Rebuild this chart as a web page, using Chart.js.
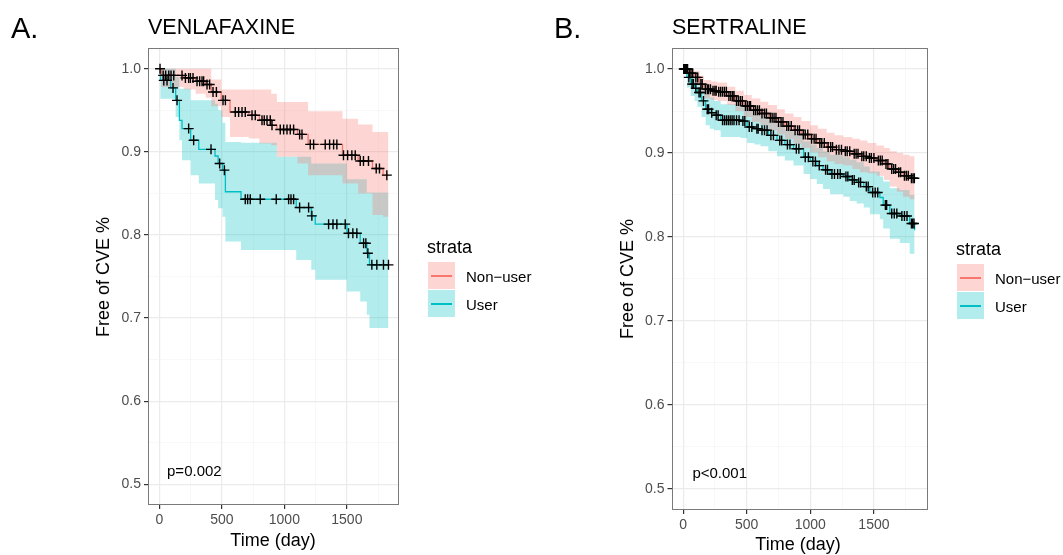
<!DOCTYPE html>
<html>
<head>
<meta charset="utf-8">
<script src="https://cdn.jsdelivr.net/npm/chart.js@4/dist/chart.umd.min.js"></script>
<style>
  body { margin: 0; background: #fff; font-family: "Liberation Sans", Arial, Helvetica, sans-serif; }
  #wrap { position: relative; width: 1063px; height: 555px; overflow: hidden; }
  canvas { position: absolute; top: 0; }
  .t { position: absolute; line-height: 1; white-space: nowrap; color: #000; transform: translateY(-50%); }
  .c { transform: translate(-50%, -50%); }
  .rot { transform: translate(-50%, -50%) rotate(-90deg); }
  .key { position: absolute; width: 27px; height: 27px; }
  .key i { position: absolute; left: 3px; right: 3px; top: 13px; height: 1.5px; }
</style>
</head>
<body>
<div id="wrap">
  <canvas id="chartA" width="530" height="555" style="left:0"></canvas>
  <canvas id="chartB" width="533" height="555" style="left:530px"></canvas>

  <div class="t" style="left:11px;top:28px;font-size:29px">A.</div>
  <div class="t" style="left:148px;top:28px;font-size:21.5px">VENLAFAXINE</div>
  <div class="t" style="left:554px;top:28px;font-size:29px">B.</div>
  <div class="t" style="left:672px;top:28px;font-size:21.5px">SERTRALINE</div>

  <div class="t rot" style="left:103px;top:277px;font-size:18px">Free of CVE %</div>
  <div class="t c" style="left:273px;top:540px;font-size:18px">Time (day)</div>
  <div class="t rot" style="left:627px;top:279px;font-size:18px">Free of CVE %</div>
  <div class="t c" style="left:798px;top:544px;font-size:18px">Time (day)</div>

  <div class="t" style="left:427px;top:247px;font-size:18px">strata</div>
  <div class="key" style="left:428px;top:262px;background:rgba(248,118,109,0.3)"><i style="background:#F8766D"></i></div>
  <div class="key" style="left:428px;top:290px;background:rgba(0,191,196,0.3)"><i style="background:#00BFC4"></i></div>
  <div class="t" style="left:466px;top:276px;font-size:15px">Non−user</div>
  <div class="t" style="left:466px;top:304px;font-size:15px">User</div>

  <div class="t" style="left:956px;top:249px;font-size:18px">strata</div>
  <div class="key" style="left:957px;top:264px;background:rgba(248,118,109,0.3)"><i style="background:#F8766D"></i></div>
  <div class="key" style="left:957px;top:292px;background:rgba(0,191,196,0.3)"><i style="background:#00BFC4"></i></div>
  <div class="t" style="left:995px;top:278px;font-size:15px">Non−user</div>
  <div class="t" style="left:995px;top:306px;font-size:15px">User</div>
</div>

<script>
// ---- Panel A: venlafaxine ----
var aNonTime  = [0, 15, 195, 290, 370, 415, 495, 565, 715, 800, 895, 940, 1105, 1190, 1465, 1590, 1705, 1790, 1833];
var aNonSurv  = [1, 0.992, 0.989, 0.985, 0.981, 0.972, 0.962, 0.948, 0.944, 0.938, 0.932, 0.927, 0.921, 0.909, 0.896, 0.889, 0.880, 0.872, 0.872];
var aNonUpper = [1, 1, 1, 1, 1, 0.987, 0.975, 0.975, 0.975, 0.975, 0.970, 0.960, 0.960, 0.949, 0.940, 0.933, 0.924, 0.924, 0.924];
var aNonLower = [1, 0.978, 0.975, 0.970, 0.965, 0.955, 0.942, 0.918, 0.916, 0.910, 0.908, 0.894, 0.886, 0.872, 0.862, 0.850, 0.824, 0.822, 0.822];
var aNonCensor = [5, 30, 50, 75, 93, 115, 181, 208, 234, 248, 269, 301, 322, 341, 354, 381, 402, 429, 456, 509, 528,
  607, 634, 661, 687, 741, 767, 821, 839, 861, 887, 901, 967, 994, 1021, 1047, 1074, 1122, 1141, 1207, 1234,
  1327, 1362, 1394, 1420, 1473, 1506, 1540, 1567, 1607, 1633, 1673, 1735, 1761, 1820];

var aUserTime  = [0, 8, 90, 130, 160, 181, 250, 315, 445, 470, 505, 528, 653, 940, 1095, 1215, 1247, 1500, 1607, 1660, 1681, 1833];
var aUserSurv  = [1, 0.986, 0.977, 0.962, 0.938, 0.928, 0.914, 0.903, 0.895, 0.886, 0.878, 0.852, 0.843, 0.843, 0.833, 0.823, 0.813, 0.802, 0.790, 0.778, 0.764, 0.764];
var aUserUpper = [1, 1, 1, 0.990, 0.976, 0.976, 0.962, 0.962, 0.958, 0.950, 0.935, 0.912, 0.911, 0.894, 0.894, 0.886, 0.886, 0.867, 0.867, 0.851, 0.851, 0.851];
var aUserLower = [1, 0.964, 0.964, 0.942, 0.914, 0.890, 0.872, 0.862, 0.842, 0.832, 0.822, 0.792, 0.782, 0.782, 0.770, 0.758, 0.746, 0.732, 0.720, 0.704, 0.688, 0.688];
var aUserCensor = [35, 61, 109, 141, 234, 274, 413, 482, 520, 687, 706, 727, 807, 935, 1034, 1053, 1074, 1122, 1194, 1220,
  1354, 1389, 1420, 1487, 1513, 1548, 1580, 1634, 1652, 1668, 1700, 1740, 1793, 1833];

// ---- Panel B: sertraline ----
var bNonTime  = [0, 40, 86, 130, 164, 220, 269, 347, 410, 477, 540, 608, 670, 738, 800, 868, 930, 999, 1060, 1129, 1190, 1260, 1330, 1390, 1450, 1520, 1580, 1625, 1680, 1729, 1780, 1820];
var bNonSurv  = [1, 0.995, 0.990, 0.982, 0.976, 0.974, 0.973, 0.968, 0.962, 0.956, 0.951, 0.947, 0.942, 0.937, 0.932, 0.927, 0.922, 0.917, 0.912, 0.907, 0.904, 0.902, 0.899, 0.896, 0.894, 0.891, 0.887, 0.881, 0.877, 0.873, 0.870, 0.869];
var bNonUpper = [1, 1, 0.998, 0.992, 0.987, 0.985, 0.984, 0.979, 0.974, 0.969, 0.965, 0.961, 0.957, 0.952, 0.947, 0.943, 0.938, 0.933, 0.929, 0.924, 0.921, 0.919, 0.917, 0.915, 0.912, 0.909, 0.906, 0.902, 0.900, 0.898, 0.896, 0.895];
var bNonLower = [1, 0.990, 0.982, 0.972, 0.965, 0.963, 0.962, 0.957, 0.950, 0.943, 0.937, 0.933, 0.927, 0.922, 0.917, 0.911, 0.906, 0.901, 0.895, 0.890, 0.887, 0.885, 0.881, 0.877, 0.876, 0.873, 0.868, 0.860, 0.854, 0.848, 0.845, 0.843];
var bNonCensor = [5, 15, 25, 35, 50, 62, 75, 100, 115, 140, 150, 175, 190, 200, 215, 235, 250, 260, 280, 295, 310, 325, 340,
  360, 375, 390, 400, 420, 435, 450, 465, 490, 505, 520, 530, 555, 570, 585, 600, 620, 640, 655, 685, 700, 715, 730,
  750, 770, 785, 815, 830, 850, 880, 900, 915, 945, 960, 980, 1010, 1030, 1045, 1075, 1090, 1110, 1140, 1160, 1175,
  1205, 1225, 1245, 1275, 1290, 1310, 1345, 1360, 1375, 1405, 1420, 1440, 1465, 1480, 1500, 1535, 1550, 1565, 1595,
  1610, 1640, 1655, 1670, 1695, 1710, 1740, 1755, 1770, 1795, 1808, 1818];

var bUserTime  = [0, 30, 60, 90, 112, 145, 177, 210, 243, 295, 451, 503, 560, 608, 670, 738, 800, 868, 947, 1000, 1051, 1100, 1155, 1260, 1310, 1364, 1420, 1468, 1547, 1573, 1625, 1703, 1781, 1820];
var bUserSurv  = [1, 0.990, 0.982, 0.977, 0.972, 0.962, 0.952, 0.948, 0.945, 0.939, 0.938, 0.931, 0.929, 0.927, 0.921, 0.915, 0.910, 0.905, 0.895, 0.890, 0.885, 0.880, 0.875, 0.872, 0.868, 0.865, 0.860, 0.853, 0.847, 0.838, 0.828, 0.825, 0.816, 0.808];
var bUserUpper = [1, 1, 0.995, 0.991, 0.988, 0.980, 0.970, 0.966, 0.962, 0.958, 0.955, 0.950, 0.947, 0.945, 0.939, 0.933, 0.928, 0.923, 0.914, 0.910, 0.906, 0.902, 0.898, 0.895, 0.892, 0.889, 0.884, 0.878, 0.872, 0.866, 0.858, 0.856, 0.850, 0.844];
var bUserLower = [1, 0.978, 0.968, 0.962, 0.955, 0.943, 0.933, 0.929, 0.927, 0.919, 0.918, 0.912, 0.910, 0.908, 0.902, 0.896, 0.891, 0.885, 0.875, 0.869, 0.863, 0.857, 0.851, 0.848, 0.843, 0.840, 0.835, 0.827, 0.821, 0.810, 0.798, 0.793, 0.780, 0.764];
var bUserCensor = [10, 20, 45, 70, 80, 100, 125, 135, 160, 190, 200, 225, 260, 275, 310, 325, 340, 355, 370, 385, 400, 420,
  440, 470, 485, 520, 540, 580, 590, 620, 640, 660, 690, 710, 760, 775, 820, 840, 890, 910, 960, 985, 1020, 1040, 1070,
  1120, 1135, 1170, 1190, 1215, 1235, 1280, 1295, 1330, 1345, 1380, 1395, 1440, 1455, 1490, 1510, 1530, 1590, 1600,
  1640, 1660, 1680, 1720, 1740, 1760, 1795, 1805, 1815];

var xTicks = [0, 250, 500, 750, 1000, 1250, 1500, 1750];
var yTicks = [0.5, 0.55, 0.6, 0.65, 0.7, 0.75, 0.8, 0.85, 0.9, 0.95, 1.0];

var RED = '#F8766D', TEAL = '#00BFC4';
var FONT = '"Liberation Sans", Arial, Helvetica, sans-serif';

function pts(times, vals) {
  return times.map(function (t, i) { return { x: t, y: vals[i] }; });
}

// value of the step curve at time t
function stepAt(times, surv, t) {
  var v = surv[0];
  for (var i = 0; i < times.length; i++) {
    if (times[i] <= t) v = surv[i];
  }
  return v;
}

function censorPts(times, surv, cens) {
  return cens.map(function (t) { return { x: t, y: stepAt(times, surv, t) }; });
}

function isMajor(v, step) {
  return Math.abs(v / step - Math.round(v / step)) < 1e-6;
}

var panelBox = {
  id: 'panelBox',
  afterDraw: function (chart, args, opts) {
    var ctx = chart.ctx, a = chart.chartArea;
    ctx.save();
    ctx.strokeStyle = '#7a7a7a';
    ctx.lineWidth = 1;
    ctx.strokeRect(Math.round(a.left) + 0.5, Math.round(a.top) + 0.5, Math.round(a.width) - 1, Math.round(a.height) - 1);
    ctx.fillStyle = '#000';
    ctx.font = '15px ' + FONT;
    ctx.textBaseline = 'middle';
    ctx.textAlign = 'left';
    ctx.fillText(opts.label, chart.scales.x.getPixelForValue(opts.at[0]), chart.scales.y.getPixelForValue(opts.at[1]));
    ctx.restore();
  }
};

function makeChart(id, g, box) {
  var band = function (data, color, fill) {
    return { data: data, stepped: true, borderWidth: 0, pointRadius: 0, backgroundColor: color, fill: fill, order: 3 };
  };
  var curve = function (data, color) {
    return { data: data, stepped: true, borderColor: color, borderWidth: 1.3, pointRadius: 0, fill: false, order: 2 };
  };
  var marks = function (data) {
    return { data: data, showLine: false, pointStyle: 'cross', pointRadius: 5, borderColor: '#000', borderWidth: 1.4, order: 1 };
  };

  return new Chart(document.getElementById(id), {
    type: 'line',
    data: {
      datasets: [
        band(pts(g.nonT, g.nonU), 'rgba(248,118,109,0.3)', false),
        band(pts(g.nonT, g.nonL), 'rgba(248,118,109,0.3)', '-1'),
        band(pts(g.userT, g.userU), 'rgba(0,191,196,0.3)', false),
        band(pts(g.userT, g.userL), 'rgba(0,191,196,0.3)', '-1'),
        curve(pts(g.nonT, g.nonS), RED),
        curve(pts(g.userT, g.userS), TEAL),
        marks(censorPts(g.nonT, g.nonS, g.nonC)),
        marks(censorPts(g.userT, g.userS, g.userC))
      ]
    },
    options: {
      responsive: false,
      animation: false,
      layout: { padding: { top: box.top, right: box.right, left: 0, bottom: 0 } },
      plugins: {
        legend: { display: false },
        tooltip: { enabled: false },
        panelBox: { label: g.pval, at: g.pAt }
      },
      scales: {
        x: {
          type: 'linear',
          min: -91.3,
          max: 1917.3,
          afterBuildTicks: function (s) { s.ticks = xTicks.map(function (v) { return { value: v }; }); },
          afterFit: function (s) { s.height = box.xh; },
          border: { display: false },
          grid: {
            color: function (c) { return isMajor(c.tick.value, 500) ? '#EBEBEB' : '#F3F3F3'; },
            lineWidth: function (c) { return isMajor(c.tick.value, 500) ? 1.2 : 0.6; },
            tickColor: function (c) { return isMajor(c.tick.value, 500) ? '#333' : 'rgba(0,0,0,0)'; },
            tickLength: 4
          },
          ticks: {
            autoSkip: false,
            maxRotation: 0,
            padding: 3,
            color: '#4D4D4D',
            font: { family: FONT, size: 14 },
            callback: function (v) { return isMajor(v, 500) ? String(v) : ''; }
          }
        },
        y: {
          min: 0.475,
          max: 1.025,
          afterBuildTicks: function (s) { s.ticks = yTicks.map(function (v) { return { value: v }; }); },
          afterFit: function (s) { s.width = box.yw; },
          border: { display: false },
          grid: {
            color: function (c) { return isMajor(c.tick.value, 0.1) ? '#EBEBEB' : '#F3F3F3'; },
            lineWidth: function (c) { return isMajor(c.tick.value, 0.1) ? 1.2 : 0.6; },
            tickColor: function (c) { return isMajor(c.tick.value, 0.1) ? '#333' : 'rgba(0,0,0,0)'; },
            tickLength: 4
          },
          ticks: {
            autoSkip: false,
            padding: 3,
            color: '#4D4D4D',
            font: { family: FONT, size: 14 },
            callback: function (v) { return isMajor(v, 0.1) ? v.toFixed(1) : ''; }
          }
        }
      }
    },
    plugins: [panelBox]
  });
}

makeChart('chartA', {
  nonT: aNonTime, nonS: aNonSurv, nonU: aNonUpper, nonL: aNonLower, nonC: aNonCensor,
  userT: aUserTime, userS: aUserSurv, userU: aUserUpper, userL: aUserLower, userC: aUserCensor,
  pval: 'p=0.002', pAt: [61, 0.5145]
}, { top: 48, right: 131, yw: 148, xh: 50 });

makeChart('chartB', {
  nonT: bNonTime, nonS: bNonSurv, nonU: bNonUpper, nonL: bNonLower, nonC: bNonCensor,
  userT: bUserTime, userS: bUserSurv, userU: bUserUpper, userL: bUserLower, userC: bUserCensor,
  pval: 'p<0.001', pAt: [73, 0.518]
}, { top: 48, right: 136, yw: 141.5, xh: 45 });
</script>
</body>
</html>
